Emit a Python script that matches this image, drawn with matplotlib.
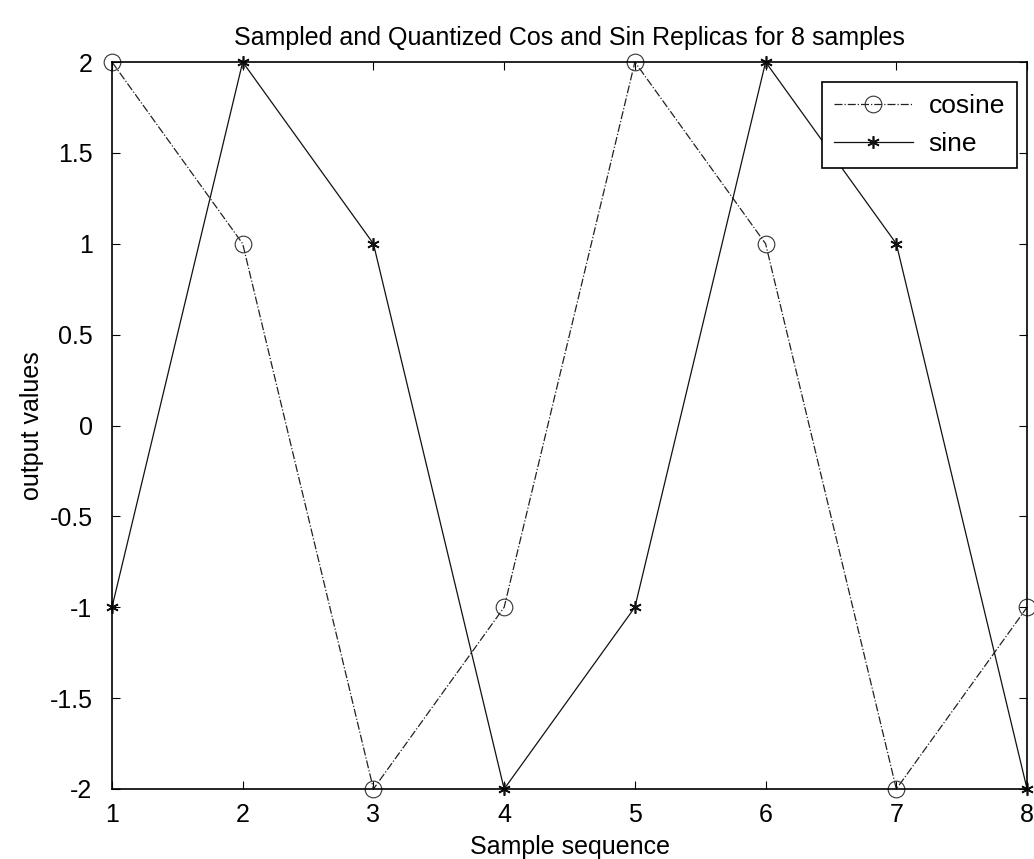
import numpy as np
import matplotlib.pyplot as plt

plt.rcParams['font.family'] = ['Liberation Sans', 'DejaVu Sans']

samples = [1, 2, 3, 4, 5, 6, 7, 8]
cosine = [2, 1, -2, -1, 2, 1, -2, -1]
sine = [-1, 2, 1, -2, -1, 2, 1, -2]

fig = plt.figure(figsize=(10.34, 8.59), dpi=100)
ax = fig.add_axes([0.1083, 0.0815, 0.885, 0.8463])
ax.plot(samples, cosine, linestyle='-.', color='#222222', linewidth=0.9,
        marker='o', markersize=12, markerfacecolor='none', markeredgecolor='#333333',
        markeredgewidth=0.8, label='cosine', clip_on=False)
ax.plot(samples, sine, linestyle='-', color='#111111', linewidth=0.9,
        marker=(6, 2, 0), markersize=9, markeredgewidth=1.2, markeredgecolor='#111111',
        label='sine', clip_on=False)

ax.set_xlim(1, 8)
ax.set_ylim(-2, 2)
ax.set_xticks(samples)
ax.set_yticks([-2, -1.5, -1, -0.5, 0, 0.5, 1, 1.5, 2])
ax.set_yticklabels(['-2', '-1.5', '-1', '-0.5', '0', '0.5', '1', '1.5', '2'])
ax.tick_params(direction='in', top=True, right=True, labelsize=18, length=6)
ax.tick_params(axis='x', pad=10)
ax.tick_params(axis='y', pad=14)
for s in ax.spines.values():
    s.set_linewidth(1.2)

ax.set_title('Sampled and Quantized Cos and Sin Replicas for 8 samples', fontsize=18, pad=12)
ax.set_xlabel('Sample sequence', fontsize=18, labelpad=6)
ax.set_ylabel('output values', fontsize=18, labelpad=4)

leg = ax.legend(loc='upper right', bbox_to_anchor=(0.989, 0.9725), fontsize=19,
                frameon=True, fancybox=False, edgecolor='black', framealpha=1,
                borderaxespad=0, handlelength=3.0, borderpad=0.45, labelspacing=0.55,
                handletextpad=0.6)
leg.get_frame().set_linewidth(1.2)

fig.savefig('out.png', dpi=100)
